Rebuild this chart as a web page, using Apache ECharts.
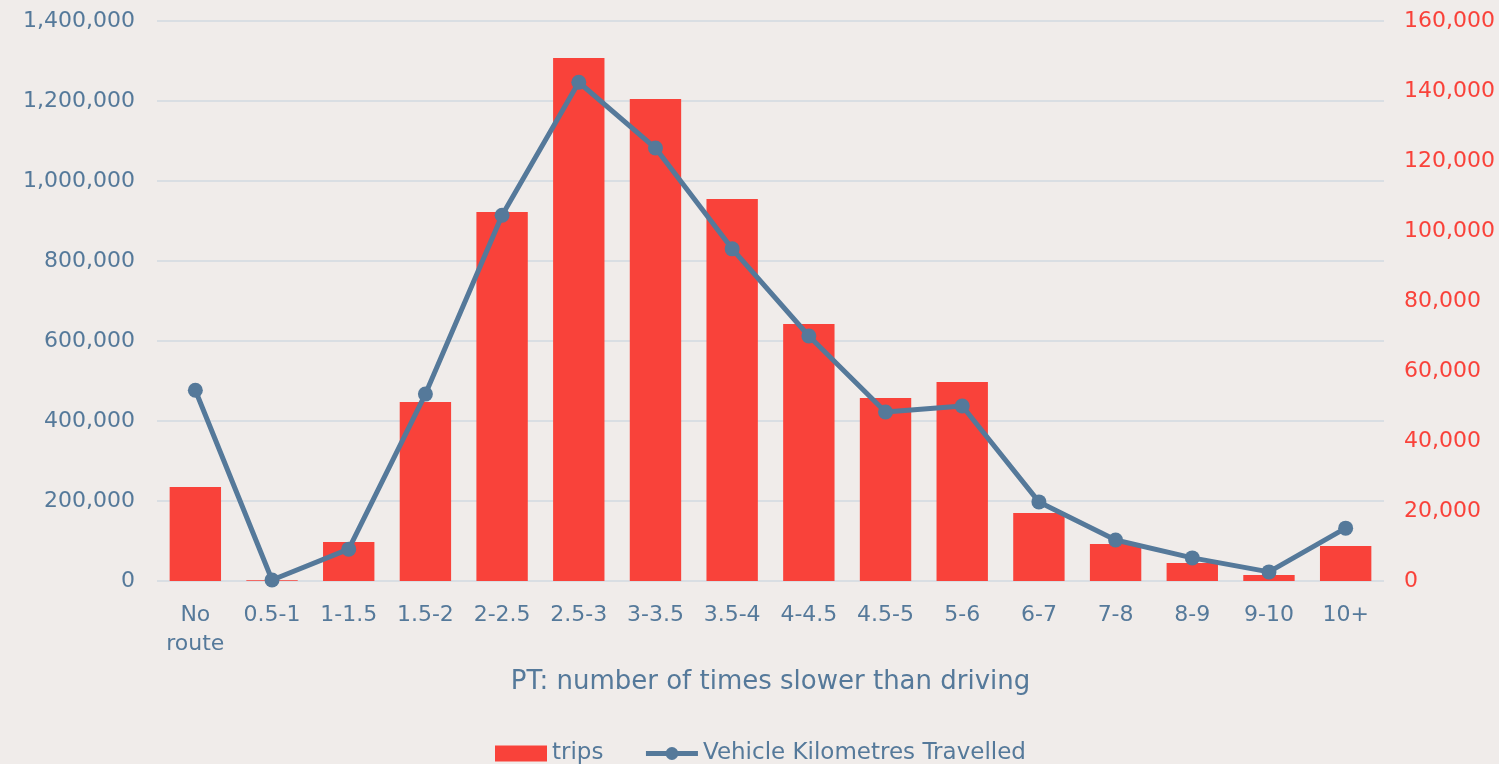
<!DOCTYPE html>
<html>
<head>
<meta charset="utf-8">
<script src="https://cdn.jsdelivr.net/npm/echarts@6/dist/echarts.min.js"></script>
<style>
  html, body { margin: 0; padding: 0; background: #f0ecea; }
  #main { width: 1499px; height: 764px; }
</style>
</head>
<body>
<div id="main"></div>
<script>
var categories = ['No\nroute', '0.5-1', '1-1.5', '1.5-2', '2-2.5', '2.5-3', '3-3.5', '3.5-4',
    '4-4.5', '4.5-5', '5-6', '6-7', '7-8', '8-9', '9-10', '10+'];
var trips = [235000, 2000, 97500, 447500, 922500, 1307500, 1205000, 955000,
    642500, 457500, 497500, 170000, 92500, 45000, 15000, 87500];
var vkt = [54500, 300, 9100, 53400, 104500, 142500, 123700, 94900,
    70000, 48300, 50000, 22600, 11700, 6600, 2600, 15100];

(function () {
    var myChart = echarts.init(document.getElementById("main"));
    var font = "DejaVu Sans";
    var blue = "#55799a";
    var red = "#f9423a";

    var option = {
        backgroundColor: "#f0ecea",
        textStyle: { fontFamily: font },
        grid: {
            left: 157,
            right: 115,
            top: 21,
            bottom: 183
        },
        legend: {
            top: 737,
            left: 490,
            itemGap: 40,
            itemWidth: 52,
            itemHeight: 16,
            textStyle: { color: blue, fontSize: 23, fontFamily: font },
            data: [
                { name: 'trips', icon: 'rect' },
                { name: 'Vehicle Kilometres Travelled', lineStyle: { width: 5 } }
            ]
        },
        xAxis: {
            type: 'category',
            data: categories,
            name: 'PT: number of times slower than driving',
            nameLocation: 'middle',
            nameGap: 88,
            nameTextStyle: { color: blue, fontSize: 26, fontFamily: font },
            axisTick: { show: false },
            axisLine: { show: false },
            axisLabel: {
                color: blue,
                fontSize: 22,
                margin: 20,
                lineHeight: 29,
                interval: 0
            }
        },
        yAxis: [
            {
                type: 'value',
                min: 0,
                max: 1400000,
                interval: 200000,
                axisLine: { show: false },
                axisTick: { show: false },
                axisLabel: {
                    color: blue,
                    fontSize: 22,
                    margin: 22,
                    formatter: function (v) { return v.toLocaleString('en-US'); }
                },
                splitLine: { lineStyle: { color: "#d9dee3", width: 2 } }
            },
            {
                type: 'value',
                min: 0,
                max: 160000,
                interval: 20000,
                axisLine: { show: false },
                axisTick: { show: false },
                axisLabel: {
                    color: red,
                    fontSize: 22,
                    margin: 20,
                    formatter: function (v) { return v.toLocaleString('en-US'); }
                },
                splitLine: { show: false }
            }
        ],
        series: [
            {
                name: 'trips',
                type: 'bar',
                yAxisIndex: 0,
                barWidth: '67%',
                itemStyle: { color: red },
                data: trips
            },
            {
                name: 'Vehicle Kilometres Travelled',
                type: 'line',
                yAxisIndex: 1,
                symbol: 'circle',
                symbolSize: 15,
                lineStyle: { color: blue, width: 5 },
                itemStyle: { color: blue },
                data: vkt
            }
        ]
    };

    myChart.setOption(option);
    window.addEventListener("resize", function () {
        myChart.resize();
    });
})();
</script>
</body>
</html>
